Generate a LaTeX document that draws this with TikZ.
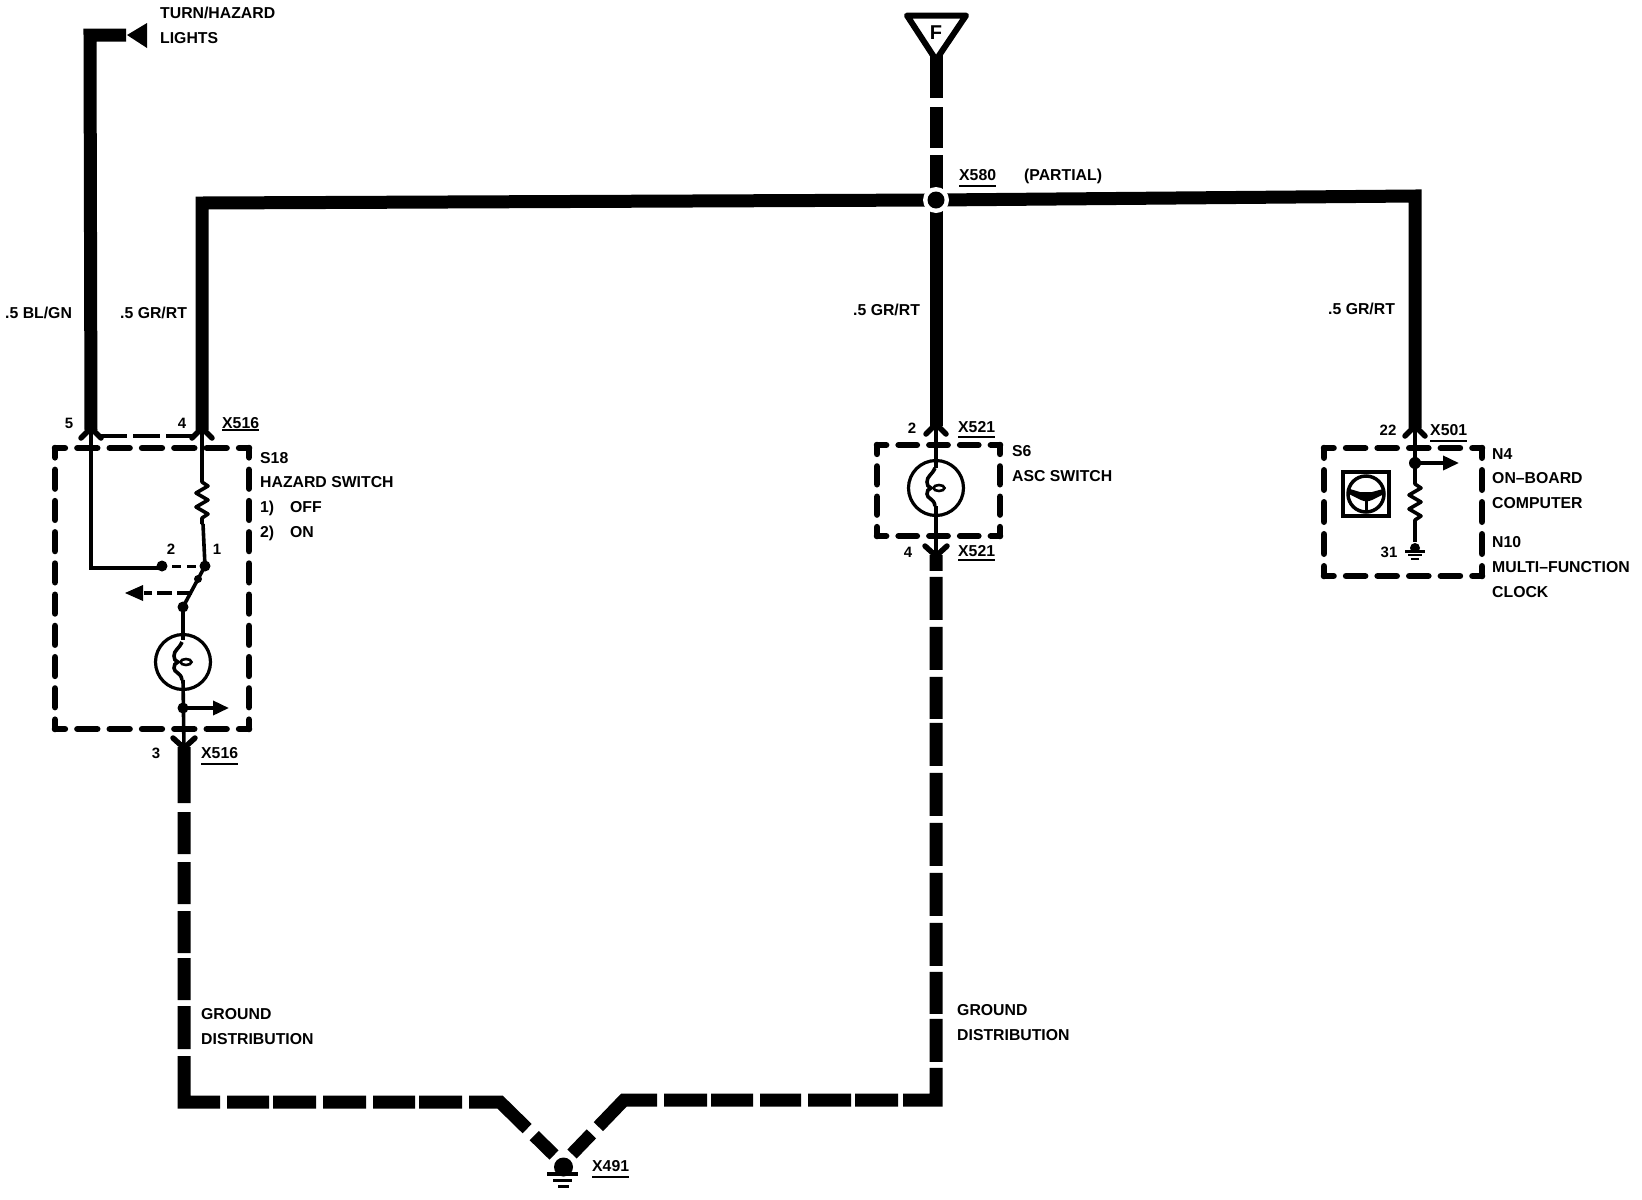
\documentclass[tikz,border=0pt]{standalone}
\usepackage{fontspec}
\newfontfamily\dfont{Liberation Sans Bold}
\usetikzlibrary{arrows.meta,calc}
\tikzset{
  wire/.style={line width=13pt,line join=miter},
  thin wire/.style={line width=3.6pt,line join=miter},
  prong/.style={line width=5.5pt,line cap=round,line join=miter},
  txt/.style={inner sep=0pt,anchor=west,text height=11.6pt,text depth=0pt,font=\dfont\fontsize{15.8}{18}\selectfont},
  num/.style={inner sep=0pt,anchor=center,text height=11pt,text depth=0pt,font=\dfont\fontsize{15}{18}\selectfont},
  ul/.style={line width=2pt},
  dotn/.style={circle,fill=black,inner sep=0pt,minimum size=#1},
  headarrow/.style={thin wire,-{Triangle[length=16pt,width=14pt]}},
}
\newcommand\lab[4]{\node[txt] (#1) at (#2,#3) {#4};}
\newcommand\ulab[5]{\node[txt] (#1) at (#2,#3) {#4};\draw[ul] (#1.west |- 0,#5) -- (#1.east |- 0,#5);}
\newcommand\chevU[2]{\draw[prong] ($(#1)+(-10,8)$) -- ($(#1)+(0,-2)$) -- ($(#1)+(10,8)$);}
\newcommand\chevD[2]{\draw[prong] ($(#1)+(-11,-9)$) -- ($(#1)+(0,1)$) -- ($(#1)+(11,-9)$);}
\newcommand\zig[3]{\draw[thin wire,line join=round] (#1,#2) -- ++(0,2) -- ++(6,4) -- ++(-12,7) -- ++(12,7) -- ++(-12,7) -- ++(12,7) -- ++(-6,4) -- (#1,#3);}
\newcommand\lamp[2]{\begin{scope}[shift={(#1,#2)}]
  \draw[line width=3.2pt] (0,0) circle[radius=27.5];
  \draw[thin wire] (-1,-20) .. controls (-4,-13) and (-9,-12) .. (-9,-6) .. controls (-9,-3) and (-8,-1) .. (-5,0) .. controls (-8,1) and (-9,3) .. (-9,6) .. controls (-9,11) and (-2,10) .. (-1,18);
  \draw[line width=2.6pt] (3,0) ellipse[x radius=5.5,y radius=3];
\end{scope}}
\newcommand\dbox[6]{%
  \pgfmathsetmacro\dbW{(#3-#1)/#5-12.5}%
  \pgfmathsetmacro\dbH{(#4-#2)/#6-12.5}%
  \begin{scope}[line width=6.5pt,line cap=round]
  \draw[dash pattern=on \dbW pt off 12.5pt,dash phase=\dbW/2*1pt] (#1,#2) -- (#3,#2);
  \draw[dash pattern=on \dbW pt off 12.5pt,dash phase=\dbW/2*1pt] (#1,#4) -- (#3,#4);
  \draw[dash pattern=on \dbH pt off 12.5pt,dash phase=\dbH/2*1pt] (#1,#2) -- (#1,#4);
  \draw[dash pattern=on \dbH pt off 12.5pt,dash phase=\dbH/2*1pt] (#3,#2) -- (#3,#4);
  \end{scope}}
\begin{document}
\begin{tikzpicture}[x=1pt,y=-1pt]
\path[use as bounding box,fill=white] (0,0) rectangle (1642,1200);

% named points
\coordinate (lightsTip) at (126,35);
\coordinate (cornerL) at (90,35);
\coordinate (c5) at (91,430);
\coordinate (c4) at (202,430);
\coordinate (cornerM) at (202,203);
\coordinate (junc) at (936,200);
\coordinate (cornerR) at (1415,196);
\coordinate (c22) at (1415,428);
\coordinate (c2) at (936,426);
\coordinate (cLow) at (936,555);
\coordinate (c3) at (184,747);
\coordinate (fApex) at (936,55);
\coordinate (gndL) at (554,1155);
\coordinate (gndR) at (572,1154);
\coordinate (bendL) at (500,1102);
\coordinate (bendR) at (624,1100);
\coordinate (botL) at (184,1102);
\coordinate (botR) at (936,1100);

% thick wires
\draw[wire] (lightsTip) -- (cornerL) -- (c5);
\draw[wire] (c4) -- (cornerM) -- (junc);
\draw[wire] (junc) -- (cornerR) -- (c22);
\draw[wire] (junc) -- (c2);
\draw[wire,dash pattern=on 43pt off 9pt on 41pt off 7pt on 60pt off 10pt] (fApex) -- (junc);
\draw[wire,dash pattern=on 56pt off 9pt on 42pt off 8pt on 42pt off 7pt on 42pt off 5pt on 42pt off 6pt on 43pt off 7pt on 82pt off 7pt on 42pt off 4pt on 43pt off 7pt on 43pt off 7pt on 42pt off 4pt on 43pt off 7pt on 69pt off 10pt on 40pt off 10pt] (c3) -- (botL) -- (bendL) -- (gndL);
\draw[wire,dash pattern=on 28pt off 10pt on 70pt off 7pt on 43pt off 4pt on 42pt off 7pt on 41pt off 7pt on 43pt off 4pt on 43pt off 5pt on 65pt off 6pt on 43pt off 5pt on 42pt off 6pt on 43pt off 7pt on 43pt off 7pt on 43pt off 7pt on 43pt off 7pt on 43pt off 4pt on 42pt off 7pt on 43pt off 7pt on 43pt off 6pt on 42pt off 7pt on 30pt off 10pt] (gndR) -- (bendR) -- (botR) -- (cLow);

% junction
\fill[white] (junc) circle[radius=13];
\node[dotn=17pt] (juncDot) at (junc) {};

% F symbol
\draw[line width=6pt,line join=round] (907,15.5) -- (966,15.5) -- (936,60) -- cycle;
\node[inner sep=0pt,font=\dfont\fontsize{20}{22}\selectfont] (fLab) at (936,33) {F};

% lights arrow
\fill (127,35) -- (147,23) -- (147,48) -- cycle;

% connectors
\chevU{c5}{}
\chevU{c4}{}
\chevU{c2}{}
\chevU{c22}{}
\chevD{c3}{}
\chevD{cLow}{}

% boxes
\dbox{55}{448}{249}{729}{6}{9}
\dbox{877}{445}{1000}{536}{4}{3}
\dbox{1324}{448}{1482}{576}{5}{4}

% dashes between pins
\draw[line width=4pt,dash pattern=on 27pt off 6pt] (100,436) -- (195,436);

% S18 internals
\coordinate (sw2) at (162,566);
\coordinate (sw1) at (205,566);
\coordinate (swPiv) at (183,607);
\coordinate (sLow) at (183,708);
\draw[thin wire] (91,430) -- (91,568) -- (162,568);
\draw[thin wire] (202,430) -- (202,480);
\zig{202}{480}{524}
\draw[thin wire] (203,524) -- (sw1);
\draw[line width=3pt,dash pattern=on 9pt off 6pt] (172,566) -- (sw1);
\node[dotn=11pt] (d2) at (sw2) {};
\node[dotn=11pt] (d1) at (sw1) {};
\node[dotn=11pt] (d3) at (swPiv) {};
\draw[thin wire] (sw1) -- (swPiv);
\node[dotn=8pt] (d4) at (198,579) {};
\draw[line width=3.6pt,dash pattern=on 15pt off 5pt] (192,593) -- (144,593);
\fill (125,593) -- (143,585) -- (143,601) -- cycle;
\draw[thin wire] (swPiv) -- (183,640);
\lamp{183}{662}
\draw[thin wire] (183,680) -- (c3);
\node[dotn=11pt] (d5) at (sLow) {};
\draw[headarrow] (sLow) -- (229,708);

% S6 internals
\draw[thin wire] (c2) -- (936,468);
\lamp{936}{488}
\draw[thin wire] (936,506) -- (cLow);

% N4 internals
\coordinate (nDot) at (1415,463);
\draw[thin wire] (c22) -- (nDot) -- (1415,482);
\node[dotn=12pt] (d6) at (nDot) {};
\draw[headarrow] (nDot) -- (1459,463);
\zig{1415}{482}{523}
\draw[thin wire] (1415,523) -- (1415,542);
\fill (1415,548) circle[radius=5];
\draw[line width=3pt] (1405,551) -- (1425,551);
\draw[line width=2.5pt] (1408,555) -- (1422,555);
\draw[line width=2.5pt] (1411,559) -- (1419,559);

% icon
\draw[line width=4pt] (1343,472) rectangle (1389,516);
\draw[line width=3.5pt] (1366,494) circle[radius=18];
\fill (1350,489) -- (1360,492) -- (1372,492) -- (1383,489) -- (1384,494) -- (1372,500) -- (1369,501) -- (1364,501) -- (1361,500) -- (1349,494) -- cycle;
\draw[line width=3pt] (1366.5,500) -- (1366.5,512);

% ground X491
\fill (563.5,1167) circle[radius=9.5];
\draw[line width=3.5pt] (547,1174) -- (578,1174);
\draw[line width=3pt] (553,1180) -- (572,1180);
\draw[line width=3pt] (558,1186) -- (569,1186);

% labels
\lab{tl1}{160}{13}{TURN/HAZARD}
\lab{tl2}{160}{38}{LIGHTS}
\ulab{x580}{959}{175}{X580}{186}
\lab{part}{1024}{175}{(PARTIAL)}
\lab{w1}{5}{313}{.5 BL/GN}
\lab{w2}{120}{313}{.5 GR/RT}
\lab{w3}{853}{310}{.5 GR/RT}
\lab{w4}{1328}{309}{.5 GR/RT}
\node[num] (n5) at (69,423) {5};
\node[num] (n4) at (182,423) {4};
\ulab{x516a}{222}{423}{X516}{430}
\lab{s18}{260}{458}{S18}
\lab{haz}{260}{482}{HAZARD SWITCH}
\lab{o1}{260}{507}{1)}
\lab{o1b}{290}{507}{OFF}
\lab{o2}{260}{532}{2)}
\lab{o2b}{290}{532}{ON}
\node[num] (n2a) at (171,549) {2};
\node[num] (n1a) at (217,549) {1};
\node[num] (n3) at (156,753) {3};
\ulab{x516b}{201}{753}{X516}{764}
\node[num] (n2b) at (912,428) {2};
\ulab{x521a}{958}{427}{X521}{437}
\lab{s6}{1012}{451}{S6}
\lab{asc}{1012}{476}{ASC SWITCH}
\node[num] (n4b) at (908,552) {4};
\ulab{x521b}{958}{551}{X521}{560}
\node[num] (n22) at (1388,430) {22};
\ulab{x501}{1430}{430}{X501}{441}
\lab{n4l}{1492}{454}{N4}
\lab{on}{1492}{478}{ON–BOARD}
\lab{comp}{1492}{503}{COMPUTER}
\lab{n10}{1492}{542}{N10}
\lab{multi}{1492}{567}{MULTI–FUNCTION}
\lab{clock}{1492}{592}{CLOCK}
\node[num] (n31) at (1389,552) {31};
\lab{g1}{201}{1014}{GROUND}
\lab{g2}{201}{1039}{DISTRIBUTION}
\lab{g3}{957}{1010}{GROUND}
\lab{g4}{957}{1035}{DISTRIBUTION}
\ulab{x491}{592}{1166}{X491}{1177}
\end{tikzpicture}
\end{document}
